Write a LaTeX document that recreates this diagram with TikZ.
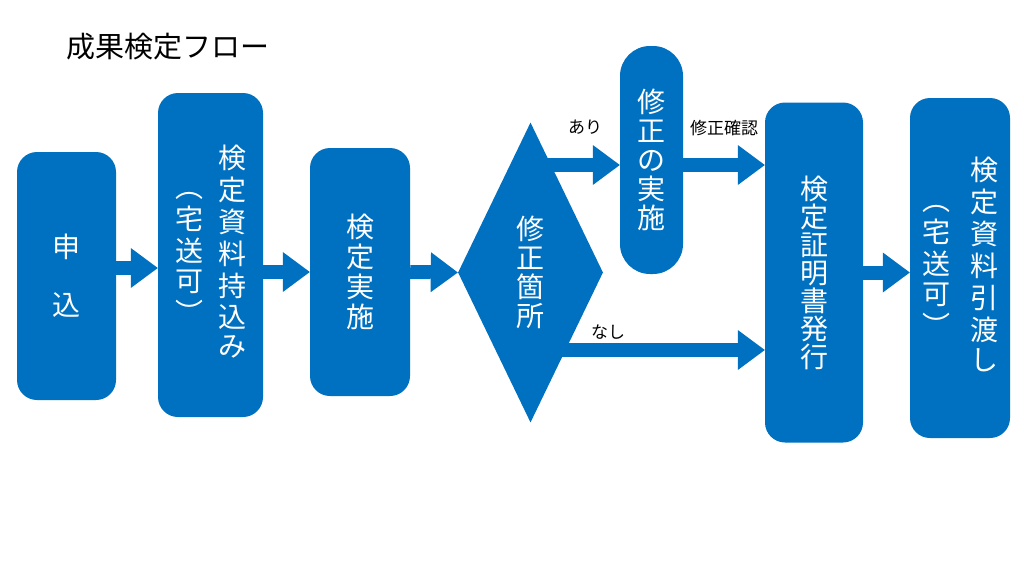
\documentclass[tikz,border=0pt]{standalone}
\usepackage{fontspec}
\setmainfont{Noto Sans CJK JP}
\usetikzlibrary{shapes.geometric,arrows.meta}
\definecolor{flowblue}{RGB}{0,112,192}
\tikzset{
  stepbox/.style = {
    fill=flowblue, rounded corners=20pt, inner sep=0pt,
    text=white, align=center, font=\fontsize{28}{28}\selectfont
  },
  decision/.style = {
    diamond, fill=flowblue, inner sep=0pt,
    text=white, align=center, font=\fontsize{28}{29}\selectfont
  },
  flow/.style = {
    flowblue, line width=14pt,
    -{Triangle[length=27pt,width=40pt,line width=0pt]}
  },
  lbl/.style = {font=\fontsize{17}{18}\selectfont}
}
\newcommand{\tatecol}[1]{\begin{tabular}{@{}c@{}}#1\end{tabular}}

\begin{document}
\begin{tikzpicture}[x=1pt,y=-1pt]
  \useasboundingbox (0,0) rectangle (1024,576);
  % title
  \node[font=\fontsize{29}{30}\selectfont] (title) at (168,47) {成果検定フロー};
  % steps
  \node[stepbox, minimum width=99pt, minimum height=248pt] (moushikomi) at (66.5,276) {申\\[30pt]込};
  \node[stepbox, minimum width=105pt, minimum height=324pt] (mochikomi) at (210.5,255)
    {\tatecol{︵\\宅\\送\\可\\︶}\hspace{15pt}\tatecol{検\\定\\資\\料\\持\\込\\み}};
  \node[stepbox, font=\fontsize{28}{30}\selectfont, minimum width=100pt, minimum height=248pt] (jisshi) at (360,272) {検\\定\\実\\施};
  \node[decision, minimum width=145pt, minimum height=300pt] (kasho) at (530.5,272.5) {修\\正\\箇\\所};
  \node[stepbox, rounded corners=30pt, font=\fontsize{28}{29}\selectfont, minimum width=63pt, minimum height=228pt] (shusei) at (651.5,160) {修\\正\\の\\実\\施};
  \node[stepbox, minimum width=98pt, minimum height=340pt] (shomei) at (814,272.5) {検\\定\\証\\明\\書\\発\\行};
  \node[stepbox, minimum width=100pt, minimum height=340pt] (hikiwatashi) at (960,268)
    {\tatecol{︵\\宅\\送\\可\\︶}\hspace{20pt}\tatecol{検\\定\\資\\料\\引\\渡\\し}};
  % arrows
  \coordinate (a1) at ([yshift=8pt]moushikomi.east);
  \draw[flow] (a1) -- (a1 -| mochikomi.west);
  \draw[flow] (jisshi.west -| mochikomi.east) -- (jisshi.west);
  \draw[flow] (jisshi.east) -- (kasho.west);
  \coordinate (ari) at ([yshift=-5pt]shusei.west);
  \draw[flow] (ari -| kasho) -- (ari);
  \draw[flow] (ari -| shusei.east) -- (ari -| shomei.west);
  \coordinate (nashi) at ([yshift=-77.5pt]kasho.center);
  \draw[flow] (nashi) -- (nashi -| shomei.west);
  \draw[flow] (kasho.east -| shomei.east) -- (kasho.east -| hikiwatashi.west);
  % labels
  \node[lbl] (ariL) at (585,127) {あり};
  \node[lbl] (kakunin) at (724,128) {修正確認};
  \node[lbl] (nashiL) at (608,332) {なし};
\end{tikzpicture}
\end{document}
